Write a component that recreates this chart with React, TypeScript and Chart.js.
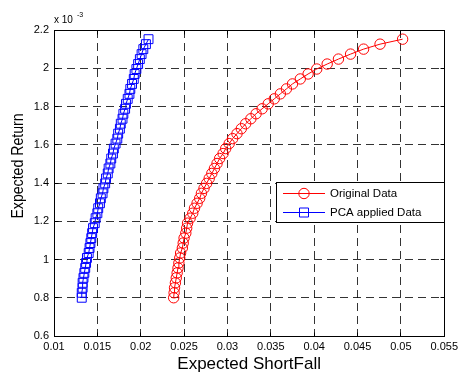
import React, { useEffect, useRef } from "react";
import { Chart, registerables } from "chart.js";

Chart.register(...registerables);

// Expected return, in units of 10^-3
const expectedReturn = [
  0.8, 0.826, 0.852, 0.878, 0.904, 0.93, 0.956, 0.982, 1.008, 1.034, 1.06, 1.086, 1.112, 1.138,
  1.164, 1.19, 1.216, 1.242, 1.268, 1.294, 1.32, 1.346, 1.372, 1.398, 1.424, 1.45, 1.476, 1.502,
  1.528, 1.554, 1.58, 1.606, 1.632, 1.658, 1.684, 1.71, 1.736, 1.762, 1.788, 1.814, 1.84, 1.866,
  1.892, 1.918, 1.944, 1.97, 1.996, 2.022, 2.048, 2.074, 2.1, 2.126, 2.152,
];

// Expected shortfall, original data
const originalShortfall = [
  0.0238, 0.02385, 0.0239, 0.024, 0.0241, 0.0242, 0.0243, 0.0244, 0.0245, 0.0246, 0.0248, 0.0249,
  0.025, 0.0252, 0.0253, 0.0254, 0.0257, 0.026, 0.0262, 0.0265, 0.0268, 0.027, 0.0273, 0.0276,
  0.0279, 0.0282, 0.0285, 0.0288, 0.0291, 0.0295, 0.0298, 0.0302, 0.0306, 0.0311, 0.0316, 0.0321,
  0.0327, 0.0333, 0.034, 0.0347, 0.0354, 0.0361, 0.0368, 0.0375, 0.0384, 0.0393, 0.0403, 0.0415,
  0.0428, 0.0442, 0.0457, 0.0476, 0.0502,
];

// Expected shortfall, PCA applied data
const pcaShortfall = [
  0.0132, 0.0132, 0.0133, 0.0133, 0.0134, 0.0135, 0.0136, 0.0137, 0.0138, 0.014, 0.0141, 0.0142,
  0.0143, 0.0144, 0.0145, 0.0147, 0.0148, 0.015, 0.0151, 0.0153, 0.0154, 0.0156, 0.0157, 0.0159,
  0.016, 0.0162, 0.0163, 0.0165, 0.0166, 0.0168, 0.0169, 0.0171, 0.0173, 0.0174, 0.0176, 0.0177,
  0.0179, 0.018, 0.0182, 0.0183, 0.0185, 0.0187, 0.0188, 0.019, 0.0192, 0.0193, 0.0195, 0.0197,
  0.0199, 0.0201, 0.0203, 0.0206, 0.0209,
];

const seriesNames = ["Original Data", "PCA applied Data"];
const seriesColors = ["#ff0000", "#0000ff"];

const xTickValues = [0.01, 0.015, 0.02, 0.025, 0.03, 0.035, 0.04, 0.045, 0.05, 0.055];
const xTickLabels = ["0.01", "0.015", "0.02", "0.025", "0.03", "0.035", "0.04", "0.045", "0.05", "0.055"];
const yTickValues = [0.6, 0.8, 1.0, 1.2, 1.4, 1.6, 1.8, 2.0, 2.2];
const yTickLabels = ["0.6", "0.8", "1", "1.2", "1.4", "1.6", "1.8", "2", "2.2"];

const xTitle = "Expected ShortFall";
const yTitle = "Expected Return";
const exponentBase = "x 10";
const exponentPower = "-3";

const FONT = '"Liberation Sans", Arial, Helvetica, sans-serif';

const framePlugin = {
  id: "matlabFrame",
  afterDraw(chart: any) {
    const { ctx, chartArea, scales } = chart;
    const { left, right, top, bottom } = chartArea;
    const a = (p: number) => Math.round(p - 0.5) + 0.5;
    const L = a(left), R = a(right), T = a(top), B = a(bottom);
    ctx.save();
    ctx.setLineDash([]);
    ctx.strokeStyle = "#000";
    ctx.lineWidth = 1;
    ctx.strokeRect(L, T, R - L, B - T);
    ctx.beginPath();
    xTickValues.forEach((v) => {
      const px = a(scales.x.getPixelForValue(v));
      ctx.moveTo(px, B); ctx.lineTo(px, B - 4);
      ctx.moveTo(px, T); ctx.lineTo(px, T + 4);
    });
    yTickValues.forEach((v) => {
      const py = a(scales.y.getPixelForValue(v));
      ctx.moveTo(L, py); ctx.lineTo(L + 4, py);
      ctx.moveTo(R, py); ctx.lineTo(R - 4, py);
    });
    ctx.stroke();

    // exponent label
    ctx.fillStyle = "#000";
    ctx.textAlign = "left";
    ctx.textBaseline = "alphabetic";
    ctx.font = `10px ${FONT}`;
    ctx.fillText(exponentBase, left, top - 7);
    ctx.font = `7px ${FONT}`;
    ctx.fillText(exponentPower, left + 23, top - 13);

    // y title
    ctx.save();
    ctx.translate(22.5, 166);
    ctx.rotate(-Math.PI / 2);
    ctx.scale(0.83, 1);
    ctx.font = `17px ${FONT}`;
    ctx.textAlign = "center";
    ctx.textBaseline = "alphabetic";
    ctx.fillText(yTitle, 0, 0);
    ctx.restore();

    // legend
    const bx = 276.5, by = 182.5, bw = R - 276.5, bh = 40;
    ctx.fillStyle = "#fff";
    ctx.fillRect(bx, by, bw, bh);
    ctx.strokeStyle = "#000";
    ctx.strokeRect(bx, by, bw, bh);
    const rows = [193.5, 212.5];
    seriesNames.forEach((name, i) => {
      const yy = rows[i];
      ctx.strokeStyle = seriesColors[i];
      ctx.lineWidth = 1;
      ctx.beginPath();
      ctx.moveTo(283, yy); ctx.lineTo(325, yy);
      ctx.stroke();
      ctx.beginPath();
      if (i === 0) {
        ctx.arc(304, yy, 5.2, 0, Math.PI * 2);
      } else {
        ctx.rect(299.5, yy - 4.5, 9, 9);
      }
      ctx.stroke();
      ctx.fillStyle = "#000";
      ctx.font = `11.5px ${FONT}`;
      ctx.textAlign = "left";
      ctx.textBaseline = "middle";
      ctx.fillText(name, 330, yy);
    });
    ctx.restore();
  },
};

export default function App() {
  const canvasRef = useRef<HTMLCanvasElement | null>(null);

  useEffect(() => {
    if (!canvasRef.current) return;
    const originalPoints = expectedReturn.map((r, i) => ({ x: originalShortfall[i], y: r }));
    const pcaPoints = expectedReturn.map((r, i) => ({ x: pcaShortfall[i], y: r }));
    const gridStyle = {
      color: "rgba(0,0,0,0.8)",
      lineWidth: 1,
      drawTicks: false,
    };
    const chart = new Chart(canvasRef.current, {
      type: "scatter",
      data: {
        datasets: [
          {
            label: seriesNames[0],
            data: originalPoints,
            showLine: true,
            borderColor: seriesColors[0],
            borderWidth: 1,
            pointStyle: "circle",
            pointRadius: 5.2,
            pointBorderWidth: 1,
            pointBorderColor: seriesColors[0],
            pointBackgroundColor: "rgba(0,0,0,0)",
          },
          {
            label: seriesNames[1],
            data: pcaPoints,
            showLine: true,
            borderColor: seriesColors[1],
            borderWidth: 1,
            pointStyle: "rect",
            pointRadius: 6.3,
            pointBorderWidth: 1,
            pointBorderColor: seriesColors[1],
            pointBackgroundColor: "rgba(0,0,0,0)",
          },
        ],
      },
      options: {
        responsive: false,
        animation: false,
        layout: { padding: { top: 30, right: 17, left: 0, bottom: 0 } },
        plugins: {
          legend: { display: false },
          tooltip: { enabled: false },
        },
        scales: {
          x: {
            type: "linear",
            min: 0.01,
            max: 0.055,
            afterBuildTicks: (scale: any) => {
              scale.ticks = xTickValues.map((v) => ({ value: v }));
            },
            afterFit: (scale: any) => {
              scale.height = 45;
            },
            grid: gridStyle,
            border: { display: false, dash: [8, 5] },
            ticks: {
              color: "#000",
              padding: 4,
              maxRotation: 0,
              autoSkip: false,
              font: { family: FONT, size: 11 },
              callback: (_v: any, i: number) => xTickLabels[i],
            },
            title: {
              display: true,
              text: xTitle,
              color: "#000",
              font: { family: FONT, size: 17 },
              padding: { top: 0, bottom: 6 },
            },
          },
          y: {
            type: "linear",
            min: 0.6,
            max: 2.2,
            afterBuildTicks: (scale: any) => {
              scale.ticks = yTickValues.map((v) => ({ value: v }));
            },
            afterFit: (scale: any) => {
              scale.width = 54;
            },
            grid: gridStyle,
            border: { display: false, dash: [8, 5] },
            ticks: {
              color: "#000",
              padding: 5,
              autoSkip: false,
              font: { family: FONT, size: 11 },
              callback: (_v: any, i: number) => yTickLabels[i],
            },
          },
        },
      },
      plugins: [framePlugin],
    });
    return () => chart.destroy();
  }, []);

  return (
    <div style={{ position: "absolute", left: 0, top: 0, width: 462, height: 381, background: "#fff" }}>
      <canvas ref={canvasRef} width={462} height={381} style={{ display: "block" }} />
    </div>
  );
}
